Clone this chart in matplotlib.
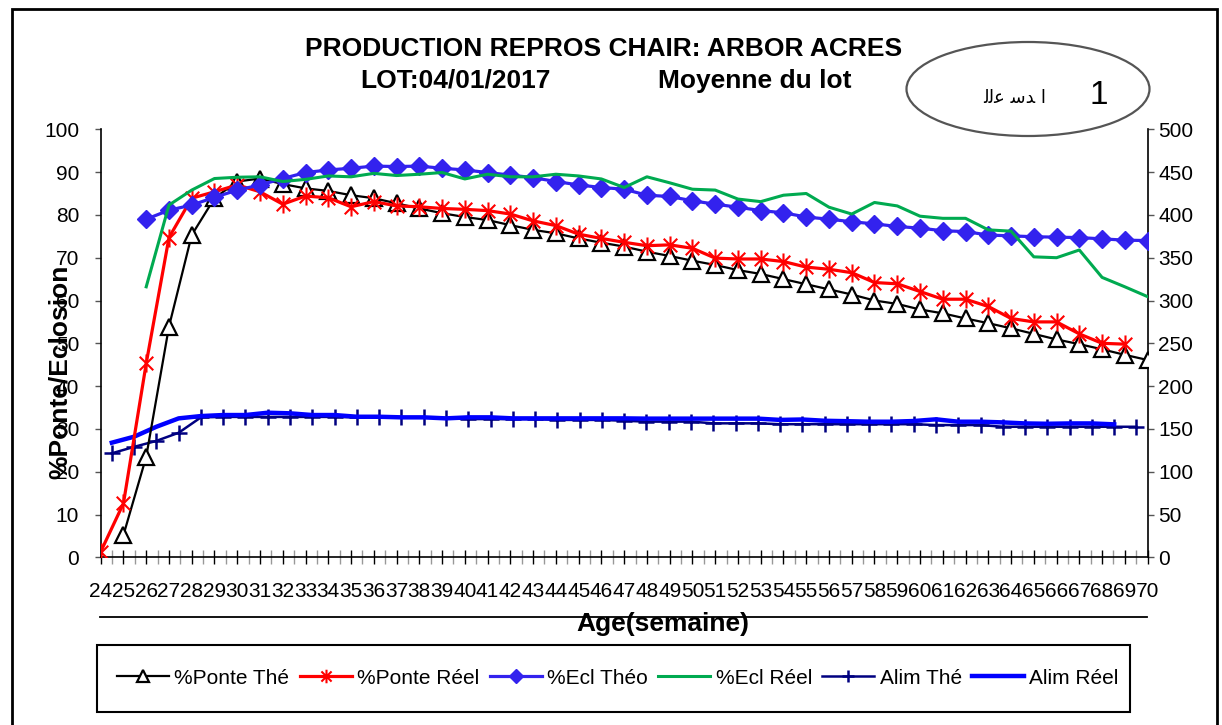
import numpy as np
import matplotlib.pyplot as plt
from matplotlib.path import Path
from matplotlib.patches import Rectangle, Ellipse
from matplotlib.lines import Line2D

plt.rcParams['font.family'] = ['Liberation Sans', 'DejaVu Sans']

W, H = 1222, 725

# ---------------- data ----------------
ages = list(range(24, 71))

ponte_the = [None, 5.2, 23.5, 53.9, 75.3, 83.9, 87.8, 88.5, 87.2, 86.2,
             85.6, 84.6, 83.9, 82.7, 81.5, 80.4, 79.5, 78.8, 77.6, 76.5,
             75.7, 74.5, 73.5, 72.6, 71.4, 70.4, 69.3, 68.3, 67.1, 66.2,
             65.0, 63.8, 62.6, 61.4, 60.0, 59.2, 57.9, 57.0, 55.8, 54.7,
             53.5, 52.2, 50.9, 49.8, 48.6, 47.3, 46.1]

ponte_reel = [1.3, 12.6, 45.3, 74.7, 83.9, 85.4, 87.0, 85.4, 82.5, 84.4,
              84.0, 81.9, 83.1, 82.1, 81.9, 81.5, 81.3, 81.0, 80.2, 78.6,
              77.5, 75.5, 74.5, 73.6, 72.8, 73.0, 72.2, 69.9, 69.7, 69.7,
              69.1, 67.8, 67.3, 66.5, 64.2, 63.9, 62.1, 60.3, 60.3, 58.6,
              55.8, 55.0, 55.0, 52.2, 50.0, 49.8, None]

ecl_theo = [None, None, 79.0, 81.1, 82.3, 84.1, 85.8, 87.0, 88.5, 89.9,
            90.5, 90.9, 91.4, 91.3, 91.4, 90.9, 90.5, 89.9, 89.3, 88.7,
            87.8, 87.0, 86.4, 86.0, 84.6, 84.3, 83.3, 82.5, 81.8, 81.0,
            80.5, 79.5, 79.0, 78.4, 77.9, 77.3, 76.9, 76.3, 76.1, 75.3,
            75.1, 74.9, 74.8, 74.7, 74.4, 74.1, 74.0]

ecl_reel = [None, None, 63.2, 82.3, 85.8, 88.5, 88.8, 88.9, 87.8, 88.3,
            89.1, 88.9, 89.7, 89.2, 89.5, 89.9, 88.4, 89.5, 88.9, 88.9,
            89.5, 89.1, 88.4, 86.4, 88.9, 87.5, 86.0, 85.8, 83.7, 83.1,
            84.6, 85.0, 81.8, 80.2, 82.9, 82.1, 79.7, 79.2, 79.2, 76.5,
            76.2, 70.2, 70.0, 71.8, 65.4, 63.2, 60.9]

alim_the = [121.5, 129.0, 136.0, 145.5, 163.5, 164.0, 164.0, 164.0, 164.0, 164.0,
            164.0, 163.5, 163.5, 163.5, 163.5, 162.5, 161.5, 161.5, 161.5, 161.5,
            160.5, 160.5, 160.5, 159.5, 158.5, 158.5, 158.5, 156.5, 156.5, 156.5,
            155.5, 155.5, 155.5, 155.5, 155.5, 155.5, 155.5, 154.5, 154.5, 154.5,
            152.5, 152.5, 152.5, 152.5, 152.5, 152.5, 152.5]

alim_reel = [133.9, 140.9, 152.5, 162.3, 165.0, 166.2, 166.2, 168.9, 168.2, 166.2,
             166.2, 164.2, 164.2, 163.5, 163.5, 162.3, 163.5, 163.5, 162.3, 162.3,
             162.3, 162.3, 162.3, 162.3, 162.0, 162.0, 162.0, 162.0, 162.0, 162.0,
             160.5, 161.0, 159.5, 159.0, 158.4, 158.4, 159.2, 161.2, 158.4, 158.4,
             157.6, 156.4, 156.0, 156.4, 156.4, 155.3, None]

labels = ["%Ponte Thé", "%Ponte Réel", "%Ecl Théo", "%Ecl Réel", "Alim Thé", "Alim Réel"]


def fx(px):
    return px / W


def fy(py):
    return 1 - py / H


x = np.arange(len(ages))

fig = plt.figure(figsize=(W / 100, H / 100), dpi=100)

rect = [fx(100.7), fy(557.3), (1147.6 - 100.7) / W, (557.3 - 129.3) / H]

# secondary axes (feed), categories placed between tick marks
ax2 = fig.add_axes(rect)
ax = fig.add_axes(rect)
ax.patch.set_visible(False)

# excel style asterisk marker
star = Path([(0, -1), (0, 1), (-0.75, -0.75), (0.75, 0.75), (-0.75, 0.75), (0.75, -0.75)],
            [Path.MOVETO, Path.LINETO, Path.MOVETO, Path.LINETO, Path.MOVETO, Path.LINETO])

l1, = ax.plot(x, np.array(ponte_the, dtype=float), color='black', lw=1.6,
              marker='^', ms=11, mfc='white', mec='black', mew=1.6, zorder=3)
l2, = ax.plot(x, np.array(ponte_reel, dtype=float), color='#FF0000', lw=2.3,
              marker=star, ms=13, mec='#FF0000', mew=1.5, zorder=4)
l3, = ax.plot(x, np.array(ecl_theo, dtype=float), color='#3322EE', lw=2.3,
              marker='D', ms=9, mfc='#3322EE', mec='#3322EE', zorder=5)
l4, = ax.plot(x, np.array(ecl_reel, dtype=float), color='#00AA50', lw=2.2, zorder=6)

l5, = ax2.plot(x, np.array(alim_the, dtype=float), color='#000080', lw=1.8,
               marker='+', ms=12, mew=1.8, zorder=3)
l6, = ax2.plot(x, np.array(alim_reel, dtype=float), color='#0000FF', lw=3.2, zorder=4)

# primary axes
ax.set_xlim(0, len(ages) - 1)
ax.set_ylim(0, 100)
ax.set_yticks(range(0, 101, 10))
ax.set_xticks(x)
ax.set_xticklabels([str(a) for a in ages])
ax.set_xticks(np.arange(0.5, len(ages) - 1, 1), minor=True)
ax.tick_params(axis='x', which='major', direction='inout', length=10, width=1,
               color='black', labelsize=15, pad=13)
ax.tick_params(axis='x', which='minor', direction='inout', length=10, width=1, color='#999999')
ax.tick_params(axis='y', direction='out', length=4.5, width=1, color='#555555',
               labelsize=15, pad=11)
for s in ['top', 'right']:
    ax.spines[s].set_visible(False)
ax.spines['left'].set_linewidth(1.2)
ax.spines['bottom'].set_linewidth(1.2)

# secondary axes
ax2.set_xlim(-0.5, len(ages) - 0.5)
ax2.set_ylim(0, 500)
ax2.set_yticks(range(0, 501, 50))
ax2.xaxis.set_visible(False)
ax2.yaxis.tick_right()
ax2.tick_params(axis='y', direction='out', length=4.5, width=1, color='#555555',
                labelsize=15, pad=3)
for s in ['top', 'left', 'bottom']:
    ax2.spines[s].set_visible(False)
ax2.spines['right'].set_linewidth(1.2)

# titles and axis labels
fig.text(fx(604), fy(49), "PRODUCTION REPROS CHAIR: ARBOR ACRES", ha='center', va='center',
         fontsize=19, fontweight='bold')
fig.text(fx(455), fy(81), "LOT:04/01/2017", ha='center', va='center', fontsize=19, fontweight='bold')
fig.text(fx(755), fy(81), "Moyenne du lot", ha='center', va='center', fontsize=19, fontweight='bold')
fig.text(fx(663), fy(624), "Age(semaine)", ha='center', va='center', fontsize=19, fontweight='bold')
fig.text(fx(60), fy(372), "%Ponte/Eclosion", ha='center', va='center', rotation=90,
         fontsize=19, fontweight='bold')
fig.add_artist(Line2D([fx(100), fx(1147)], [fy(617), fy(617)], color='black', lw=1.3))

# stamp ellipse
fig.add_artist(Ellipse((fx(1028), fy(89)), 243 / W, 94 / H, fill=False, ec='#555555', lw=1.6))
fig.text(fx(1015), fy(98), "ﻟﻟﻋ ﺳﺪ ﺍ", ha='center', va='center', fontsize=13,
         family=['DejaVu Sans'])
fig.text(fx(1099), fy(95), "1", ha='center', va='center', fontsize=24)

# legend box
fig.add_artist(Rectangle((fx(97), fy(712)), (1130 - 97) / W, (712 - 645) / H,
                         fill=False, ec='black', lw=1.5))
fig.legend([l1, l2, l3, l4, l5, l6], labels, loc='center', bbox_to_anchor=(fx(618), fy(678)),
           ncol=6, frameon=False, fontsize=15, handlelength=2.5, handletextpad=0.25,
           columnspacing=0.5, markerscale=0.75)

# outer frame
fig.add_artist(Rectangle((fx(12), fy(740)), (1217 - 12) / W, (740 - 9) / H,
                         fill=False, ec='black', lw=2))

fig.savefig("out.png", dpi=100)
